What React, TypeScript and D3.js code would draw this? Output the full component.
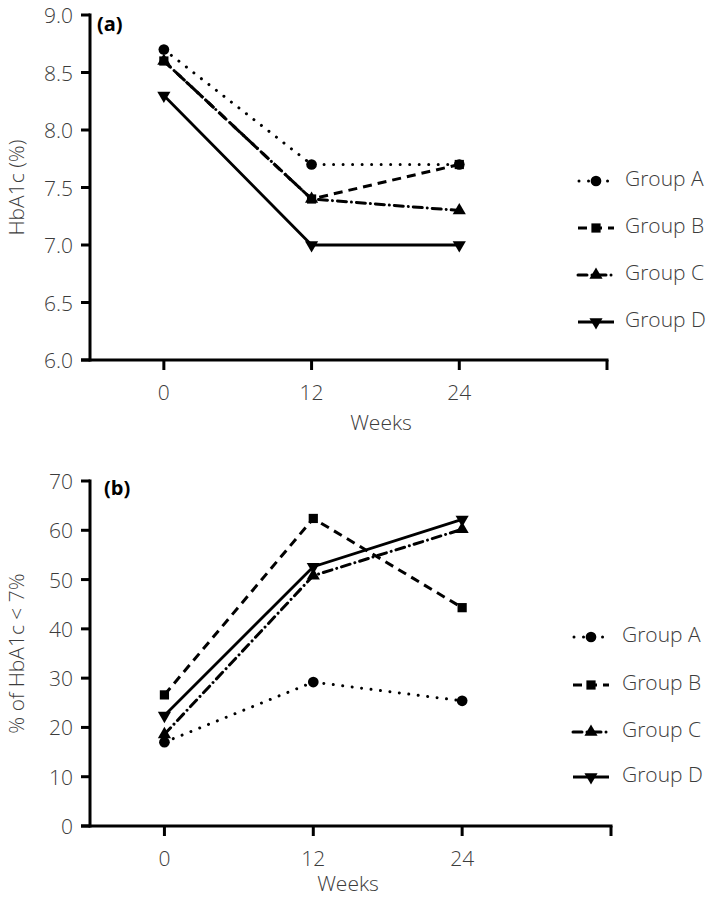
import React from "react";
import * as d3 from "d3";

const weeks = [0, 12, 24];
const xTicks = [0, 12, 24, 36];
const groupNames = ["Group A", "Group B", "Group C", "Group D"];

const hba1cA = [8.7, 7.7, 7.7];
const hba1cB = [8.6, 7.4, 7.7];
const hba1cC = [8.6, 7.4, 7.3];
const hba1cD = [8.3, 7.0, 7.0];
const hba1cTicks = [6.0, 6.5, 7.0, 7.5, 8.0, 8.5, 9.0];

const pctA = [17.0, 29.2, 25.4];
const pctB = [26.6, 62.4, 44.3];
const pctC = [18.6, 50.8, 60.2];
const pctD = [22.4, 52.6, 62.2];
const pctTicks = [0, 10, 20, 30, 40, 50, 60, 70];

const dashes = ["0.01,9.5", "9,6", "9,5,0.01,5", ""];
const caps = ["round", "butt", "round", "butt"];
const symbols = [d3.symbolCircle, d3.symbolSquare, d3.symbolTriangle, d3.symbolTriangle];
const symSizes = [90, 85, 75, 75];
const rotations = [0, 0, 0, 180];

const FONT = "'Open Sans', 'DejaVu Sans', sans-serif";
const TXT = "#3c3c3c";
const FS = 21;

type PanelProps = {
  series: number[][];
  yDomain: [number, number];
  yTop: number;
  yBottom: number;
  xRight: number;
  yTicks: number[];
  yFmt: (v: number) => string;
  label: string;
  labelPos: [number, number];
  yTitle: string;
  weeksX: number;
  weeksDy: number;
  legendY: number[];
  legendX: number;
  legendTextX: number;
};

function Marker({ i, x, y }: { i: number; x: number; y: number }) {
  const p = d3.symbol().type(symbols[i]).size(symSizes[i])() as string;
  return (
    <path d={p} transform={`translate(${x},${y}) rotate(${rotations[i]})`} fill="#000" />
  );
}

function Panel(props: PanelProps) {
  const { series, yDomain, yTop, yBottom, xRight, yTicks, yFmt } = props;
  const xLeft = 90;
  const x = d3.scaleLinear().domain([-6, 36]).range([xLeft, xRight]);
  const y = d3.scaleLinear().domain(yDomain).range([yBottom, yTop]);
  const line = d3
    .line<number>()
    .x((_, i) => x(weeks[i]))
    .y((d) => y(d));
  const yMid = (yTop + yBottom) / 2;
  return (
    <g>
      {series.map((s, i) => (
        <path
          key={"l" + i}
          d={line(s) as string}
          fill="none"
          stroke="#000"
          strokeWidth={i === 3 ? 2.8 : 3}
          strokeDasharray={dashes[i] || undefined}
          strokeLinecap={caps[i] as any}
        />
      ))}
      {series.map((s, i) =>
        s.map((v, j) => <Marker key={`m${i}-${j}`} i={i} x={x(weeks[j])} y={y(v)} />)
      )}
      <line x1={xLeft} x2={xLeft} y1={yTop - 1.5} y2={yBottom + 1.5} stroke="#000" strokeWidth={3} />
      <line x1={xLeft - 9} x2={xRight + 1.5} y1={yBottom} y2={yBottom} stroke="#000" strokeWidth={3} />
      {yTicks.map((t) => (
        <g key={"yt" + t}>
          <line x1={xLeft - 9} x2={xLeft} y1={y(t)} y2={y(t)} stroke="#000" strokeWidth={3} />
          <text
            x={xLeft - 17}
            y={y(t)}
            textAnchor="end"
            dominantBaseline="central"
            fontFamily={FONT}
            fontSize={FS}
            fontWeight={300}
            fill={TXT}
          >
            {yFmt(t)}
          </text>
        </g>
      ))}
      {xTicks.map((t) => (
        <g key={"xt" + t}>
          <line x1={x(t)} x2={x(t)} y1={yBottom} y2={yBottom + 10} stroke="#000" strokeWidth={3} />
          {t < 36 && (
            <text
              x={x(t)}
              y={yBottom + 32}
              textAnchor="middle"
              dominantBaseline="central"
              fontFamily={FONT}
              fontSize={FS}
              fontWeight={300}
              fill={TXT}
            >
              {t}
            </text>
          )}
        </g>
      ))}
      <text
        x={props.weeksX}
        y={yBottom + props.weeksDy}
        textAnchor="middle"
        dominantBaseline="central"
        fontFamily={FONT}
        fontSize={FS}
        fontWeight={300}
        fill={TXT}
      >
        Weeks
      </text>
      <text
        transform={`translate(16,${yMid}) rotate(-90)`}
        textAnchor="middle"
        dominantBaseline="central"
        fontFamily={FONT}
        fontSize={FS}
        fontWeight={300}
        fill={TXT}
      >
        {props.yTitle}
      </text>
      <text
        x={props.labelPos[0]}
        y={props.labelPos[1]}
        dominantBaseline="central"
        fontFamily={FONT}
        fontSize={20}
        fontWeight={700}
        fill="#000"
      >
        {props.label}
      </text>
      {groupNames.map((g, i) => {
        const ly = props.legendY[i];
        const lx = props.legendX;
        return (
          <g key={"lg" + i}>
            <line
              x1={lx - 18}
              x2={lx + 18}
              y1={ly}
              y2={ly}
              stroke="#000"
              strokeWidth={i === 3 ? 2.8 : 3}
              strokeDasharray={dashes[i] || undefined}
              strokeLinecap={caps[i] as any}
              strokeDashoffset={i === 0 ? -1 : 0}
            />
            <Marker i={i} x={lx} y={ly} />
            <text
              x={props.legendTextX}
              y={ly - 3}
              dominantBaseline="central"
              fontFamily={FONT}
              fontSize={FS}
              fontWeight={300}
              fill={TXT}
            >
              {g}
            </text>
          </g>
        );
      })}
    </g>
  );
}

export default function App() {
  return (
    <svg width={709} height={900} style={{ display: "block", position: "absolute", left: 0, top: 0 }}>
      <rect width={709} height={900} fill="#fff" />
      <Panel
        series={[hba1cA, hba1cB, hba1cC, hba1cD]}
        yDomain={[6, 9]}
        yTop={15}
        yBottom={360}
        xRight={607}
        yTicks={hba1cTicks}
        yFmt={(v) => v.toFixed(1)}
        label="(a)"
        labelPos={[97, 23]}
        yTitle="HbA1c (%)"
        weeksX={381}
        weeksDy={62}
        legendY={[181, 228, 275, 322]}
        legendX={596}
        legendTextX={625}
      />
      <Panel
        series={[pctA, pctB, pctC, pctD]}
        yDomain={[0, 70]}
        yTop={481}
        yBottom={826}
        xRight={611}
        yTicks={pctTicks}
        yFmt={(v) => String(v)}
        label="(b)"
        labelPos={[104, 487]}
        yTitle="% of HbA1c < 7%"
        weeksX={348}
        weeksDy={57}
        legendY={[637, 685, 732, 777]}
        legendX={591}
        legendTextX={622}
      />
    </svg>
  );
}
